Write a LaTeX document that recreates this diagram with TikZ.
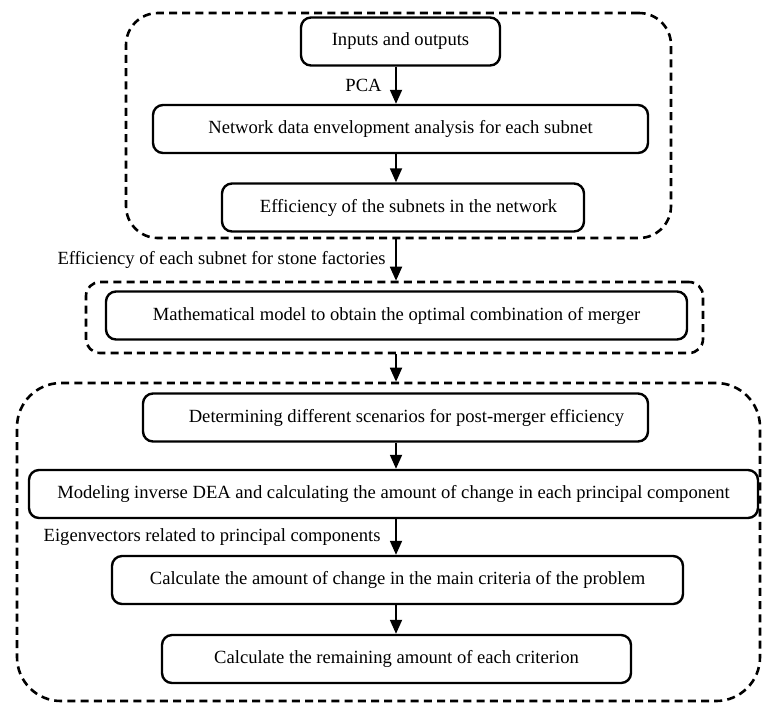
\documentclass[tikz,border=0pt]{standalone}
\usepackage{fontspec}
\setmainfont{Liberation Serif}
\usepackage{tikz}
\usetikzlibrary{arrows.meta,positioning}

\begin{document}
\begin{tikzpicture}[x=0.5pt, y=-0.5pt,
    font=\fontsize{9.3}{11}\selectfont,
    stepbox/.style={draw, line width=1.2pt, rounded corners=5pt, inner sep=0pt, minimum height=24pt},
    groupbox/.style={draw, line width=1.3pt, dash pattern=on 4pt off 2.6pt, inner sep=0pt},
    flow/.style={line width=0.9pt, -{Triangle[length=7pt, width=6pt]}}]
    \useasboundingbox (0,0) rectangle (763,703);
    \coordinate (col) at (396,0);

    % Dashed groups
    \node[groupbox, rounded corners=16pt, minimum width=272.5pt, minimum height=112.5pt] (grpnet) at (398.5,125.5) {};
    \node[groupbox, rounded corners=7pt, minimum width=308.5pt, minimum height=35.5pt] (grpmrg) at (394.5,317.5) {};
    \node[groupbox, rounded corners=22pt, minimum width=371.5pt, minimum height=159pt] (grppost) at (388.5,542) {};

    % Network DEA part
    \node[stepbox, minimum width=99.5pt] (in) at (400.5,41.5) {Inputs and outputs};
    \node[stepbox, minimum width=247.5pt] (net) at (400.5,129) {Network data envelopment analysis for each subnet};
    \node[stepbox, minimum width=181pt] (eff) at (403,207.5) {\hspace{5.5pt}Efficiency of the subnets in the network};

    % Merger model
    \node[stepbox, minimum width=290.5pt] (math) at (396.5,315.5) {Mathematical model to obtain the optimal combination of merger};

    % Post-merger part
    \node[stepbox, minimum width=252.5pt] (scen) at (395.5,417.5) {\hspace{11pt}Determining different scenarios for post-merger efficiency};
    \node[stepbox, minimum width=364.5pt] (inv) at (393.5,494) {Modeling inverse DEA and calculating the amount of change in each principal component};
    \node[stepbox, minimum width=285.5pt] (chg) at (397.5,580) {Calculate the amount of change in the main criteria of the problem};
    \node[stepbox, minimum width=234.5pt] (rem) at (396.5,659) {Calculate the remaining amount of each criterion};

    % Arrows
    \draw[flow] (in.south -| col) -- node[anchor=east, xshift=-3.4pt] {PCA} (net.north -| col);
    \draw[flow] (net.south -| col) -- (eff.north -| col);
    \draw[flow] (grpnet.south -| col) -- node[anchor=east, xshift=-1.4pt] {Efficiency of each subnet for stone factories} (grpmrg.north -| col);
    \draw[flow] (grpmrg.south -| col) -- (grppost.north -| col);
    \draw[flow] (scen.south -| col) -- (inv.north -| col);
    \draw[flow] (inv.south -| col) -- node[anchor=east, xshift=-4pt] {Eigenvectors related to principal components} (chg.north -| col);
    \draw[flow] (chg.south -| col) -- (rem.north -| col);
\end{tikzpicture}
\end{document}
